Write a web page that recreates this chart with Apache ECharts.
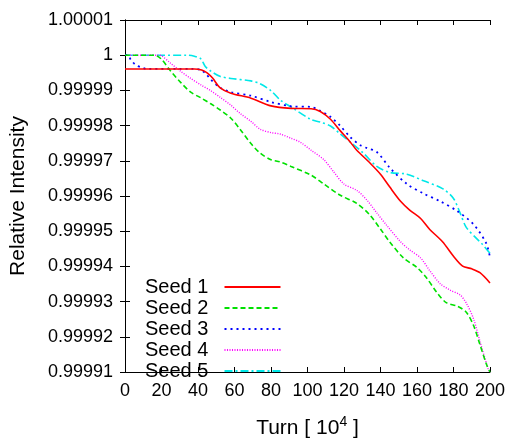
<!DOCTYPE html>
<html>
<head>
<meta charset="utf-8">
<script src="https://cdn.jsdelivr.net/npm/echarts@6/dist/echarts.min.js"></script>
<style>
html,body{margin:0;padding:0;background:#fff;}
#chart{width:508px;height:444px;}
</style>
</head>
<body>
<div id="chart"></div>
<script>
var seedNames = ['Seed 1', 'Seed 2', 'Seed 3', 'Seed 4', 'Seed 5'];
var xTicks = [0, 20, 40, 60, 80, 100, 120, 140, 160, 180, 200];
var yTicks = [0.99991, 0.99992, 0.99993, 0.99994, 0.99995, 0.99996, 0.99997, 0.99998, 0.99999, 1, 1.00001];

var seed1Turn = [0, 38, 42, 45, 48, 52, 58, 69, 80, 91, 102, 107, 112.6, 118, 123.5, 127, 134, 140, 145, 151, 156, 162, 167, 174, 180, 185, 190, 194.5, 200];
var seed1Val = [0.9999961, 0.9999961, 0.9999958, 0.999995, 0.9999935, 0.9999908, 0.9999892, 0.9999878, 0.9999856, 0.9999849, 0.9999848, 0.999984, 0.9999818, 0.9999785, 0.9999753, 0.999973, 0.9999695, 0.9999662, 0.9999626, 0.9999585, 0.999956, 0.9999536, 0.9999505, 0.999947, 0.9999429, 0.9999401, 0.9999393, 0.9999382, 0.9999353];

var seed2Turn = [0, 16, 19.7, 25, 30.6, 36, 41.5, 47, 52, 58, 63, 69, 74, 80, 85, 91, 102, 109, 118, 127, 134, 140, 145, 152.6, 160, 165, 171, 176, 182, 187, 191, 194.5, 198, 200];
var seed2Val = [1, 1, 0.999999, 0.9999955, 0.9999922, 0.9999895, 0.9999879, 0.9999862, 0.9999845, 0.9999821, 0.999979, 0.9999749, 0.9999722, 0.9999703, 0.9999697, 0.9999684, 0.9999659, 0.9999634, 0.9999602, 0.9999579, 0.9999547, 0.9999506, 0.999947, 0.9999424, 0.9999397, 0.9999369, 0.9999325, 0.9999297, 0.9999287, 0.999927, 0.9999232, 0.9999178, 0.9999123, 0.99991];

var seed3Turn = [0, 1.6, 3.3, 6, 8.7, 12, 37, 41.5, 44.5, 47, 52, 58, 69, 80, 91, 102, 107, 112.6, 118, 123.5, 129, 132.6, 138, 145, 154.5, 163.6, 172.7, 181.8, 190.9, 198, 200];
var seed3Val = [1, 1, 0.9999986, 0.9999972, 0.9999966, 0.9999961, 0.9999961, 0.9999958, 0.9999946, 0.9999931, 0.9999908, 0.9999895, 0.9999885, 0.9999867, 0.9999855, 0.9999853, 0.9999842, 0.9999825, 0.9999799, 0.9999767, 0.9999744, 0.9999736, 0.9999725, 0.9999681, 0.9999634, 0.9999607, 0.9999585, 0.9999558, 0.999952, 0.9999465, 0.9999425];

var seed4Turn = [0, 18, 19.7, 25, 30.6, 36, 41.5, 47, 52, 58, 63, 69, 74, 80, 85, 91, 96, 102, 109, 114, 120, 127, 132.6, 138, 143.5, 151, 156, 162, 167, 172.7, 178, 183.6, 187, 191, 194.5, 199, 200];
var seed4Val = [1, 1, 0.9999999, 0.9999977, 0.9999954, 0.9999934, 0.9999916, 0.9999899, 0.9999881, 0.9999858, 0.9999835, 0.9999812, 0.999979, 0.999978, 0.9999776, 0.9999764, 0.9999753, 0.999973, 0.9999703, 0.9999671, 0.9999634, 0.9999616, 0.9999588, 0.9999552, 0.9999516, 0.999947, 0.9999447, 0.9999424, 0.9999388, 0.9999351, 0.9999333, 0.9999319, 0.9999296, 0.9999251, 0.9999187, 0.9999109, 0.99991];

var seed5Turn = [0, 34, 38, 41.5, 44, 47, 52, 58, 69, 74, 80, 85, 91, 102, 107, 112.6, 118, 123.5, 130.6, 138, 145, 154.5, 163.6, 174, 180, 183.6, 187, 192.7, 196, 200];
var seed5Val = [1, 1, 0.9999997, 0.999999, 0.9999968, 0.9999955, 0.999994, 0.9999934, 0.9999927, 0.9999919, 0.9999899, 0.9999873, 0.9999853, 0.9999817, 0.999981, 0.9999799, 0.9999776, 0.9999753, 0.9999722, 0.9999684, 0.9999667, 0.9999662, 0.9999643, 0.9999621, 0.9999593, 0.9999552, 0.9999511, 0.9999479, 0.9999462, 0.9999437];

function pairs(xs, ys) { return xs.map(function (x, i) { return [x, ys[i]]; }); }

var FONT = '"Liberation Sans", Arial, Helvetica, sans-serif';
var chart = echarts.init(document.getElementById('chart'), null, {renderer: 'canvas'});

var styles = [
  {color: '#ff0000', type: 'solid', width: 1.6},
  {color: '#00e000', type: [5, 3], width: 1.6},
  {color: '#0000ff', type: [2, 4], width: 1.8},
  {color: '#ff00ff', type: [1, 1.5], width: 1.4},
  {color: '#00e8e8', type: [8, 3, 2, 3], width: 1.6}
];
var datasets = [
  pairs(seed1Turn, seed1Val), pairs(seed2Turn, seed2Val), pairs(seed3Turn, seed3Val),
  pairs(seed4Turn, seed4Val), pairs(seed5Turn, seed5Val)
];

function yFmt(v) { return String(parseFloat(Number(v).toFixed(5))); }

var xMin = xTicks[0], xMax = xTicks[xTicks.length - 1], xInt = xTicks[1] - xTicks[0];
var yMin = yTicks[0], yMax = yTicks[yTicks.length - 1], yInt = 0.00001;

var axisLine = {show: true, lineStyle: {color: '#000', width: 1}};
var tick = {show: true, inside: true, length: 5, lineStyle: {color: '#000', width: 1}};

chart.setOption({
  animation: false,
  backgroundColor: '#fff',
  textStyle: {fontFamily: FONT},
  grid: {left: 124, right: 18, top: 20, bottom: 59},
  legend: {
    orient: 'vertical',
    left: 140,
    top: 272,
    align: 'right',
    itemWidth: 56,
    itemHeight: 14,
    itemGap: 1,
    itemStyle: {opacity: 0},
    formatter: function (n) { return n + '  '; },
    textStyle: {fontSize: 20, color: '#000', fontFamily: FONT},
    data: seedNames
  },
  xAxis: [
    {
      type: 'value', min: xMin, max: xMax, interval: xInt,
      position: 'bottom',
      axisLine: axisLine, axisTick: tick, splitLine: {show: false},
      axisLabel: {fontSize: 18, color: '#000', margin: 10, fontFamily: FONT},
      name: 'Turn [ 10{sup|4} ]',
      nameLocation: 'middle',
      nameGap: 43,
      nameTextStyle: {
        fontSize: 21, color: '#000', fontFamily: FONT,
        rich: {sup: {fontSize: 14, color: '#000', fontFamily: FONT, padding: [0, 0, 13, 0]}}
      }
    },
    {
      type: 'value', min: xMin, max: xMax, interval: xInt,
      position: 'top',
      axisLine: axisLine, axisTick: tick, splitLine: {show: false},
      axisLabel: {show: false}
    }
  ],
  yAxis: [
    {
      type: 'value', min: yMin, max: yMax, interval: yInt,
      position: 'left',
      axisLine: axisLine, axisTick: tick, splitLine: {show: false},
      axisLabel: {fontSize: 18, color: '#000', margin: 12, fontFamily: FONT, formatter: yFmt},
      name: 'Relative Intensity',
      nameLocation: 'middle',
      nameGap: 96,
      nameTextStyle: {fontSize: 21, color: '#000', fontFamily: FONT}
    },
    {
      type: 'value', min: yMin, max: yMax, interval: yInt,
      position: 'right',
      axisLine: axisLine, axisTick: tick, splitLine: {show: false},
      axisLabel: {show: false}
    }
  ],
  series: seedNames.map(function (n, i) {
    return {
      name: n,
      type: 'line',
      data: datasets[i],
      showSymbol: false,
      symbol: 'none',
      smooth: 0.3,
      clip: true,
      lineStyle: styles[i],
      itemStyle: {color: styles[i].color},
      z: 10 - i
    };
  })
});
</script>
</body>
</html>
